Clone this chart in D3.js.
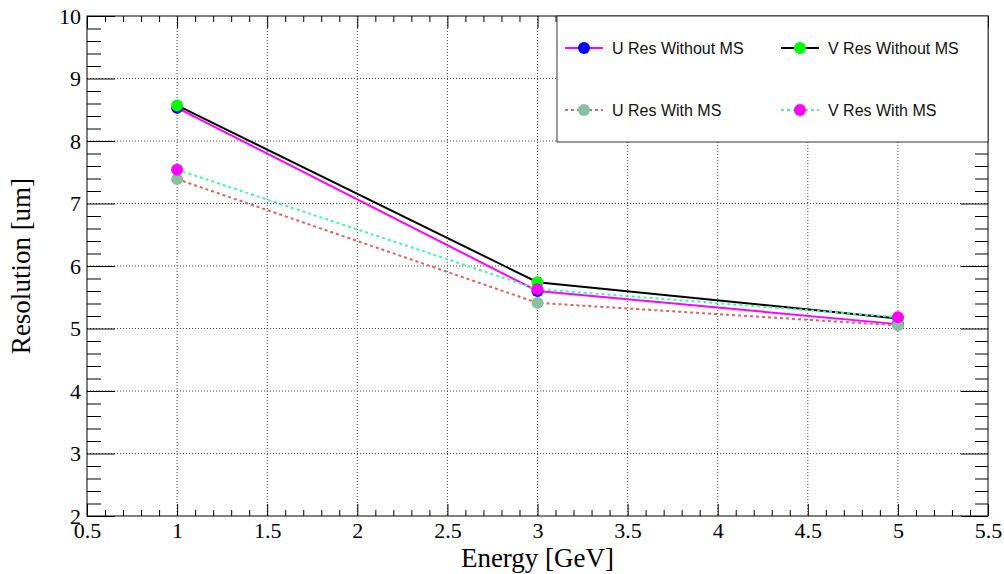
<!DOCTYPE html>
<html>
<head>
<meta charset="utf-8">
<script src="https://cdn.jsdelivr.net/npm/d3@7"></script>
<style>
  body { margin: 0; background: #fff; }
  svg { display: block; }
</style>
</head>
<body>
<div id="chart"></div>
<script>
// values
const energies = [1, 3, 5];
const uResNoMS = [8.53, 5.60, 5.07];
const vResNoMS = [8.57, 5.74, 5.16];
const uResMS = [7.39, 5.41, 5.05];
const vResMS = [7.54, 5.63, 5.18];

const seriesNames = ["U Res Without MS", "V Res Without MS", "U Res With MS", "V Res With MS"];
const lineColors = ["#ff00ff", "#000000", "#e0605a", "#3dfca0"];
const markerColors = ["#0000ff", "#00ff00", "#88c0a0", "#ff00ff"];
const dashes = [null, null, "3,3", "3,3"];

const xTicks = [0.5, 1, 1.5, 2, 2.5, 3, 3.5, 4, 4.5, 5, 5.5];
const yTicks = [2, 3, 4, 5, 6, 7, 8, 9, 10];

const W = 1004, H = 574;
const margin = {top: 16, right: 16, bottom: 58, left: 87},
    width = W - margin.left - margin.right,
    height = H - margin.top - margin.bottom;

const svg = d3.select("#chart")
  .append("svg")
    .attr("width", W)
    .attr("height", H)
  .append("g")
    .attr("transform", `translate(${margin.left}, ${margin.top})`);

const x = d3.scaleLinear().domain([0.5, 5.5]).range([0, width]);
const y = d3.scaleLinear().domain([2, 10]).range([height, 0]);

// grid
svg.append("g")
  .selectAll("line")
  .data(xTicks.slice(1, -1))
  .enter().append("line")
    .attr("x1", d => x(d)).attr("x2", d => x(d))
    .attr("y1", 0).attr("y2", height)
    .attr("stroke", "#444").attr("stroke-width", 1)
    .attr("stroke-dasharray", "1,2");
svg.append("g")
  .selectAll("line")
  .data(yTicks.slice(1, -1))
  .enter().append("line")
    .attr("x1", 0).attr("x2", width)
    .attr("y1", d => y(d)).attr("y2", d => y(d))
    .attr("stroke", "#444").attr("stroke-width", 1)
    .attr("stroke-dasharray", "1,2");

// minor tick values
const xMinor = d3.range(0.5, 5.5001, 0.1).map(v => +v.toFixed(2)).filter(v => !xTicks.includes(v));
const yMinor = d3.range(2, 10.0001, 0.2).map(v => +v.toFixed(2)).filter(v => !yTicks.includes(v));

// axes (ROOT style: ticks inward on all four sides)
const axisStyle = g => {
  g.select(".domain").remove();
  g.selectAll(".tick line").attr("stroke", "#000");
};

// bottom major + labels
svg.append("g")
  .attr("transform", `translate(0, ${height})`)
  .call(d3.axisBottom(x).tickValues(xTicks).tickSizeInner(-12).tickSizeOuter(0).tickPadding(6).tickFormat(d3.format("")))
  .call(axisStyle)
  .selectAll("text")
    .attr("font-family", "'Liberation Serif', 'Times New Roman', serif")
    .attr("font-size", 22).attr("fill", "#000");
svg.append("g")
  .attr("transform", `translate(0, ${height})`)
  .call(d3.axisBottom(x).tickValues(xMinor).tickSizeInner(-6).tickSizeOuter(0).tickFormat(""))
  .call(axisStyle);
// top
svg.append("g")
  .call(d3.axisTop(x).tickValues(xTicks).tickSizeInner(-12).tickSizeOuter(0).tickFormat(""))
  .call(axisStyle);
svg.append("g")
  .call(d3.axisTop(x).tickValues(xMinor).tickSizeInner(-6).tickSizeOuter(0).tickFormat(""))
  .call(axisStyle);
// left major + labels
svg.append("g")
  .call(d3.axisLeft(y).tickValues(yTicks).tickSizeInner(-28).tickSizeOuter(0).tickPadding(6).tickFormat(d3.format("")))
  .call(axisStyle)
  .selectAll("text")
    .attr("font-family", "'Liberation Serif', 'Times New Roman', serif")
    .attr("font-size", 22).attr("fill", "#000");
svg.append("g")
  .call(d3.axisLeft(y).tickValues(yMinor).tickSizeInner(-14).tickSizeOuter(0).tickFormat(""))
  .call(axisStyle);
// right
svg.append("g")
  .attr("transform", `translate(${width}, 0)`)
  .call(d3.axisRight(y).tickValues(yTicks).tickSizeInner(-27).tickSizeOuter(0).tickFormat(""))
  .call(axisStyle);
svg.append("g")
  .attr("transform", `translate(${width}, 0)`)
  .call(d3.axisRight(y).tickValues(yMinor).tickSizeInner(-13).tickSizeOuter(0).tickFormat(""))
  .call(axisStyle);

// frame
svg.append("rect")
  .attr("width", width).attr("height", height)
  .attr("fill", "none").attr("stroke", "#000").attr("stroke-width", 1);

// axis titles
svg.append("text")
  .attr("x", width / 2).attr("y", height + 51)
  .attr("text-anchor", "middle")
  .attr("font-family", "'Liberation Serif', 'Times New Roman', serif")
  .attr("font-size", 27)
  .text("Energy [GeV]");
svg.append("text")
  .attr("transform", `translate(${-57}, ${height / 2}) rotate(-90)`)
  .attr("text-anchor", "middle")
  .attr("font-family", "'Liberation Serif', 'Times New Roman', serif")
  .attr("font-size", 27)
  .text("Resolution [um]");

// series
const allSeries = [uResNoMS, vResNoMS, uResMS, vResMS];
const line = d3.line().x(d => x(d[0])).y(d => y(d[1]));

allSeries.forEach((vals, i) => {
  const pts = energies.map((e, j) => [e, vals[j]]);
  svg.append("path")
    .datum(pts)
    .attr("d", line)
    .attr("fill", "none")
    .attr("stroke", lineColors[i])
    .attr("stroke-width", 2)
    .attr("stroke-dasharray", dashes[i]);
  svg.append("g")
    .selectAll("circle")
    .data(pts)
    .enter().append("circle")
      .attr("cx", d => x(d[0]))
      .attr("cy", d => y(d[1]))
      .attr("r", 6)
      .attr("fill", markerColors[i]);
});

// legend
const legend = svg.append("g")
  .attr("transform", `translate(${557 - margin.left}, 0)`);
legend.append("rect")
  .attr("width", 988 - 557).attr("height", 142 - 16)
  .attr("fill", "#fff").attr("stroke", "#333").attr("stroke-width", 1);

const legendPos = [[0, 32], [216, 32], [0, 94], [216, 94]];
seriesNames.forEach((name, i) => {
  const [lx, ly] = legendPos[i];
  const g = legend.append("g").attr("transform", `translate(${lx}, ${ly})`);
  g.append("line")
    .attr("x1", 8).attr("x2", 46)
    .attr("y1", 0).attr("y2", 0)
    .attr("stroke", lineColors[i]).attr("stroke-width", 2)
    .attr("stroke-dasharray", dashes[i]);
  g.append("circle")
    .attr("cx", 27).attr("cy", 0).attr("r", 6)
    .attr("fill", markerColors[i]);
  g.append("text")
    .attr("x", 55).attr("y", 5.5)
    .attr("font-family", "'Liberation Sans', Arial, sans-serif")
    .attr("font-size", 16)
    .attr("fill", "#111")
    .text(name);
});
</script>
</body>
</html>
